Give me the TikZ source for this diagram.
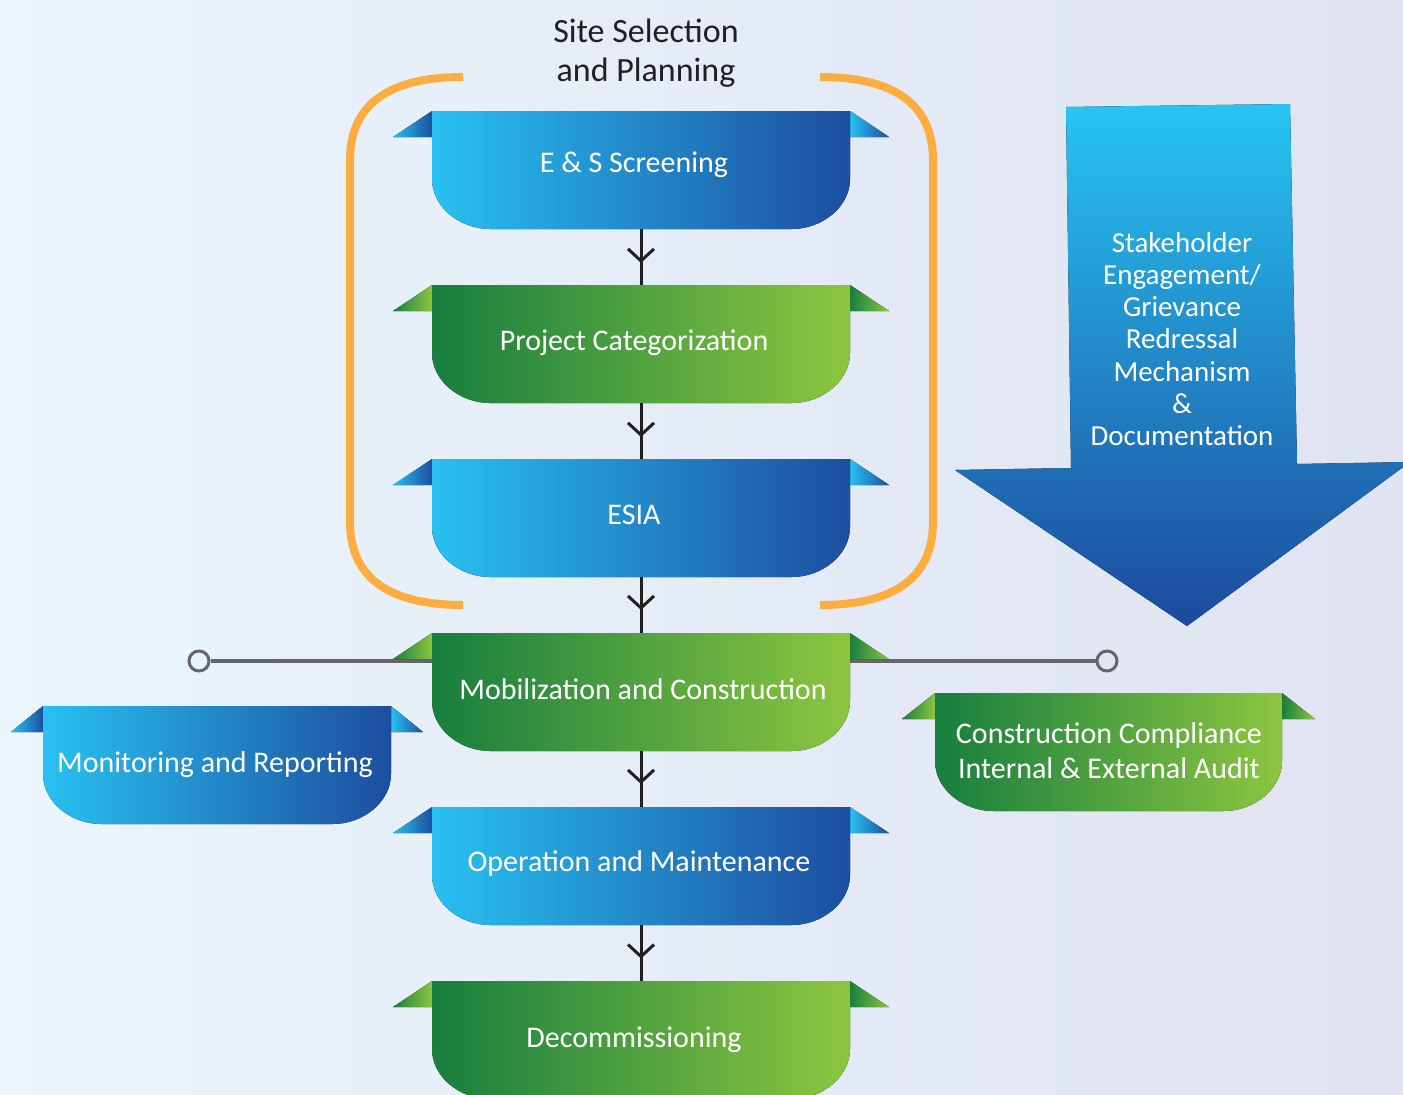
\documentclass[tikz,border=0pt]{standalone}
\usepackage{fontspec}
\setmainfont{Carlito}
\usetikzlibrary{arrows.meta,decorations.markings}
\definecolor{bgl}{HTML}{EAF5FC}
\definecolor{bgr}{HTML}{E0E3F1}
\definecolor{bla}{HTML}{28C1F1}
\definecolor{blb}{HTML}{1A7EC2}
\definecolor{blc}{HTML}{1D4E9F}
\definecolor{gra}{HTML}{177E3F}
\definecolor{grb}{HTML}{4F9B45}
\definecolor{grc}{HTML}{8CC63F}
\definecolor{ink}{HTML}{231F20}
\definecolor{orng}{HTML}{FBAD3F}
\definecolor{hgray}{HTML}{666569}
\definecolor{arra}{HTML}{27C5F3}
\definecolor{arrb}{HTML}{1B7FC4}
\definecolor{arrc}{HTML}{1C4A9C}
\tikzset{
  bbox/.style={left color=bla, middle color=blb, right color=blc},
  gbox/.style={left color=gra, middle color=grb, right color=grc},
  bear/.style={left color=bla, right color=blc},
  gear/.style={left color=gra, right color=grc},
  boxtext/.style={text=white, font=\fontsize{30}{35}\selectfont, inner sep=0pt, align=center},
  conn/.style={line width=3pt, draw=ink,
    decoration={markings, mark=at position #1 with {\arrow{Straight Barb[length=12pt,width=26pt,line width=3pt]}}},
    postaction={decorate}},
  conn/.default=0.6,
  endcircle/.style={circle, draw=hgray, line width=3pt, minimum size=20pt, inner sep=0pt},
  hline/.style={draw=hgray, line width=4pt},
  bracket/.style={draw=orng, line width=8pt},
}
% #1 name, #2 x left, #3 top, #4 x right, #5 b/g, #6 ear width, #7 text x, #8 text y, #9 text
\newcommand\ribbonbox[9]{%
  \fill[#5ear] (#2,#3) -- ({#2-#6},{#3+26}) -- (#2,{#3+26}) -- cycle;
  \fill[#5ear] (#4,#3) -- ({#4+#6},{#3+26}) -- (#4,{#3+26}) -- cycle;
  \fill[#5box] (#2,#3) -- (#4,#3) -- (#4,{#3+68})
    .. controls (#4,{#3+96}) and ({#4-28},{#3+118}) .. ({#4-58},{#3+118})
    -- ({#2+58},{#3+118})
    .. controls ({#2+28},{#3+118}) and (#2,{#3+96}) .. (#2,{#3+68}) -- cycle;
  \node[inner sep=0pt, minimum width={#4-#2}, minimum height=118] (#1) at ({(#2+#4)/2},{#3+59}) {};
  \node[boxtext] (#1t) at (#7,#8) {#9};
}
\begin{document}
\begin{tikzpicture}[x=1pt,y=-1pt]
\useasboundingbox (0,0) rectangle (1403,1095);
\fill[left color=bgl, right color=bgr] (0,0) rectangle (1403,1095);

% title
\node[text=ink, font=\fontsize{34}{39}\selectfont, align=center, inner sep=0pt] (title) at (646,53) {Site Selection\\and Planning};

% orange brackets
\draw[bracket] (463,77) .. controls (395,77) and (350,100) .. (350,160) -- (350,522)
  .. controls (350,582) and (395,605) .. (463,605);
\draw[bracket] (820,77) .. controls (888,77) and (933,100) .. (933,160) -- (933,522)
  .. controls (933,582) and (888,605) .. (820,605);

% big arrow
\fill[top color=arra, middle color=arrb, bottom color=arrc]
  (1066,107) -- (1290,104) -- (1297,464) -- (1410,462) -- (1187,626) -- (955,470) -- (1071,468) -- cycle;
\node[text=white, font=\fontsize{29}{32.2}\selectfont, align=center, inner sep=0pt] (stake) at (1182,339)
  {Stakeholder\\Engagement/\\Grievance\\Redressal\\Mechanism\\\&\\Documentation};

% horizontal line with end circles
\node[endcircle] (cl) at (199,661) {};
\node[endcircle] (cr) at (1107,661) {};
\draw[hline] (cl) -- (cr);

% main boxes
\ribbonbox{b1}{432}{111}{850}{b}{39}{634}{165}{E \& S Screening}
\ribbonbox{b2}{432}{285}{850}{g}{39}{634}{343}{Project Categorization}
\ribbonbox{b3}{432}{459}{850}{b}{39}{634}{515}{ESIA}
\ribbonbox{b4}{432}{633}{850}{g}{39}{643}{689}{Mobilization and Construction}
\ribbonbox{b5}{432}{807}{850}{b}{39}{639}{863}{Operation and Maintenance}
\ribbonbox{b6}{432}{981}{850}{g}{39}{634}{1040}{Decommissioning}
% side boxes
\ribbonbox{mon}{43}{706}{391}{b}{32}{215}{765}{Monitoring and Reporting}
\ribbonbox{aud}{935}{693}{1282}{g}{33}{1109}{751}{Construction Compliance\\Internal \& External Audit}

% connectors
\draw[conn=0.607] (b1.south) -- (b2.north);
\draw[conn=0.607] (b2.south) -- (b3.north);
\draw[conn=0.59] (b3.south) -- (b4.north);
\draw[conn=0.59] (b4.south) -- (b5.north);
\draw[conn=0.6] (b5.south) -- (b6.north);
\end{tikzpicture}
\end{document}
